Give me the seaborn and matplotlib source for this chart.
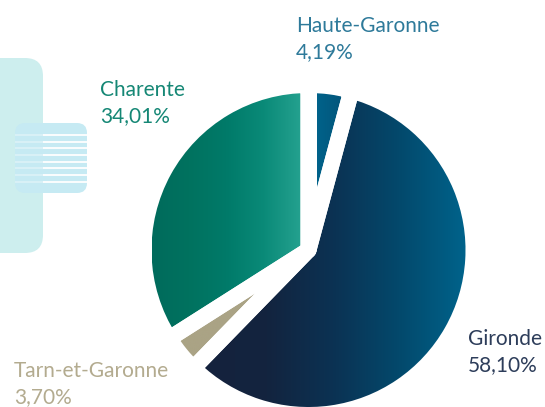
import numpy as np
import matplotlib.pyplot as plt
import seaborn as sns
from matplotlib.patches import FancyBboxPatch

# Share of each département (percent), counter-clockwise from 12 o'clock
regions = ["Charente", "Tarn-et-Garonne", "Gironde", "Haute-Garonne"]
shares = [34.01, 3.70, 58.10, 4.19]

# gradient stops (left -> right) for every slice
fills = {
    "Charente": ["#006b5c", "#00725f", "#007a69", "#0a8a78", "#24a18f"],
    "Tarn-et-Garonne": ["#aaa385", "#aaa385"],
    "Gironde": ["#15223d", "#13243f", "#0b3253", "#03496c", "#00638b"],
    "Haute-Garonne": ["#00628a", "#03557a"],
}
text_colors = {
    "Charente": "#158775",
    "Tarn-et-Garonne": "#b3ab8f",
    "Gironde": "#2d3d5a",
    "Haute-Garonne": "#2e7a9a",
}
# label anchor (left x, baseline y) in pixels from the top-left corner
label_pos = {
    "Charente": (100, 96),
    "Tarn-et-Garonne": (14, 377),
    "Gironde": (468, 345),
    "Haute-Garonne": (296, 32),
}

W, H = 545, 407
sns.set_theme(style="white")
plt.rcParams["font.family"] = ["Lato", "DejaVu Sans"]

fig = plt.figure(figsize=(W / 100, H / 100), dpi=100)
ax = fig.add_axes([0, 0, 1, 1])

# decorative block on the left
big = FancyBboxPatch((-30, H - 253), 73, 195, boxstyle="round,pad=0,rounding_size=18",
                     fc="#cdeeee", ec="none", zorder=0)
ax.add_patch(big)
small = FancyBboxPatch((15, H - 193), 72, 70, boxstyle="round,pad=0,rounding_size=10",
                       fc="#c6eaf3", ec="none", zorder=0.5)
ax.add_patch(small)
stripe_y = H - (135 + np.arange(8) * 6.67)
s1 = ax.hlines(stripe_y, 43, 90, colors="white", lw=1.3, zorder=0.6)
s2 = ax.hlines(stripe_y, 10, 43, colors="white", lw=1.3, alpha=0.35, zorder=0.6)
s1.set_clip_path(small)
s2.set_clip_path(small)

# pie: thick white edges give the gaps between slices
cx, cy, R = 308.5, H - 250, 165
wedges, _ = ax.pie(shares, startangle=90, counterclock=True, radius=R, center=(cx, cy),
                   wedgeprops=dict(fc="none", ec="white", lw=11.5, joinstyle="round"))

grad = np.linspace(0, 1, 256).reshape(1, -1)
for w, name in zip(wedges, regions):
    w.set_zorder(3)
    bb = w.get_path().get_extents()
    cmap = sns.blend_palette(fills[name], as_cmap=True)
    im = ax.imshow(grad, cmap=cmap, aspect="auto", zorder=2,
                   extent=(bb.x0 + 8, bb.x1 - 8, bb.y0, bb.y1), interpolation="bilinear")
    im.set_clip_path(w)

for name, val in zip(regions, shares):
    x, y = label_pos[name]
    pct = f"{val:.2f}".replace(".", ",") + "%"
    ax.text(x, H - y, name, color=text_colors[name], fontsize=15, va="baseline", ha="left")
    ax.text(x, H - y - 26, pct, color=text_colors[name], fontsize=15, va="baseline", ha="left")

ax.set_xlim(0, W)
ax.set_ylim(0, H)
ax.set_aspect("equal")
ax.axis("off")
fig.savefig("out.png", dpi=100)
